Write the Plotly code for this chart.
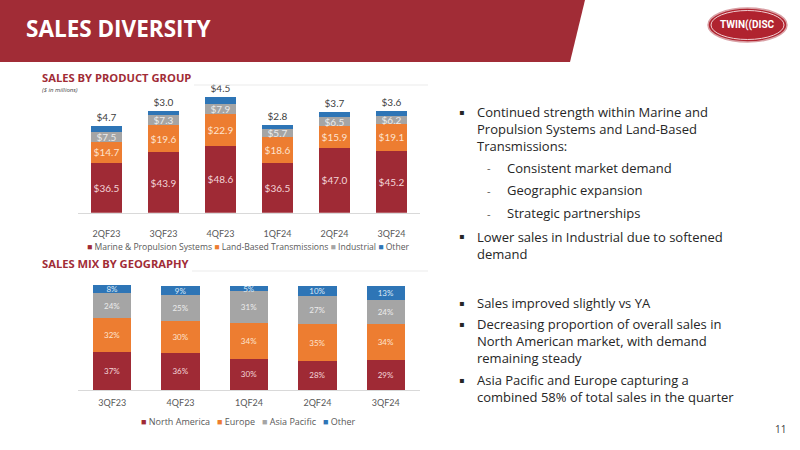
import plotly.graph_objects as go

# ---------------- data ----------------
prod_quarters = ["2QF23", "3QF23", "4QF23", "1QF24", "2QF24", "3QF24"]
marine = [36.5, 43.9, 48.6, 36.5, 47.0, 45.2]
land_based = [14.7, 19.6, 22.9, 18.6, 15.9, 19.1]
industrial = [7.5, 7.3, 7.9, 5.7, 6.5, 6.2]
other_prod = [4.7, 3.0, 4.5, 2.8, 3.7, 3.6]

geo_quarters = ["3QF23", "4QF23", "1QF24", "2QF24", "3QF24"]
north_america = [37, 36, 30, 28, 29]
europe = [32, 30, 34, 35, 34]
asia_pacific = [24, 25, 31, 27, 24]
other_geo = [8, 9, 5, 10, 13]

prod_names = ["Marine & Propulsion Systems", "Land-Based Transmissions", "Industrial", "Other"]
geo_names = ["North America", "Europe", "Asia Pacific", "Other"]

RED = "#9f2a35"
ORANGE = "#ed7d31"
GRAY = "#a5a5a5"
BLUE = "#2e75b6"
COLORS = [RED, ORANGE, GRAY, BLUE]
INSIDE_TXT = ["#f3d6d9", "#fde3cf", "#ececec", "#dce9f6"]

NUM_FONT = "Lato"
TXT_FONT = "Open Sans"

fig = go.Figure()

# ---------------- chart 1: sales by product group ----------------
prod_series = [marine, land_based, industrial, other_prod]
for i, (name, vals) in enumerate(zip(prod_names, prod_series)):
    last = i == len(prod_series) - 1
    fig.add_trace(go.Bar(
        x=prod_quarters, y=vals, name=name,
        marker=dict(color=COLORS[i], line=dict(width=0)),
        text=[f"${v:.1f}" for v in vals],
        textposition="outside" if last else "inside",
        insidetextanchor="middle",
        constraintext="none",
        textfont=dict(family=NUM_FONT, size=10,
                      color="#404040" if last else INSIDE_TXT[i]),
        cliponaxis=False,
        xaxis="x", yaxis="y", showlegend=False,
        hoverinfo="skip",
    ))

# ---------------- chart 2: sales mix by geography ----------------
geo_series = [north_america, europe, asia_pacific, other_geo]
for i, (name, vals) in enumerate(zip(geo_names, geo_series)):
    fig.add_trace(go.Bar(
        x=geo_quarters, y=vals, name=name,
        marker=dict(color=COLORS[i], line=dict(width=0)),
        text=[f"{v}%" for v in vals],
        textposition="inside",
        insidetextanchor="middle",
        constraintext="none",
        textfont=dict(family=NUM_FONT, size=8, color=INSIDE_TXT[i]),
        cliponaxis=False,
        xaxis="x2", yaxis="y2", showlegend=False,
        hoverinfo="skip",
    ))

W, H = 800, 450


def py(px):
    return 1 - px / H


def px_x(px):
    return px / W


axis_common = dict(
    type="category", showgrid=False, zeroline=False,
    showline=True, linecolor="#d9d9d9", linewidth=1,
    ticks="outside", tickcolor="rgba(0,0,0,0)",
    tickfont=dict(family=NUM_FONT, size=9, color="#595959"),
)

fig.update_layout(
    width=W, height=H,
    margin=dict(l=0, r=0, t=0, b=0),
    paper_bgcolor="white", plot_bgcolor="white",
    barmode="stack", bargap=0.44,
    xaxis=dict(domain=[px_x(78), px_x(420)], anchor="y", ticklen=12, **axis_common),
    yaxis=dict(domain=[py(212.7), py(90)], range=[0, (212.7 - 90) / 1.375],
               visible=False, fixedrange=True),
    xaxis2=dict(domain=[px_x(78), px_x(420)], anchor="y2", ticklen=4, **axis_common),
    yaxis2=dict(domain=[py(390), py(280)], range=[0, 110 / 1.04],
                visible=False, fixedrange=True),
)

shapes = []
annotations = []

# header banner
shapes.append(dict(type="path", xref="paper", yref="paper",
                   path=f"M 0 1 L {px_x(585)} 1 L {px_x(570)} {py(62)} L 0 {py(62)} Z",
                   fillcolor="#a12c36", line=dict(width=0), layer="below"))
annotations.append(dict(text="<b>SALES DIVERSITY</b>", x=px_x(24), y=py(29),
                        xref="paper", yref="paper", xanchor="left", yanchor="middle",
                        showarrow=False, font=dict(family=TXT_FONT, size=22.5, color="white")))

# logo
shapes.append(dict(type="circle", xref="paper", yref="paper",
                   x0=px_x(708), x1=px_x(787), y0=py(42), y1=py(8),
                   fillcolor="#b0232f", line=dict(color="#d9a0a5", width=1.5)))
shapes.append(dict(type="circle", xref="paper", yref="paper",
                   x0=px_x(711), x1=px_x(784), y0=py(39.5), y1=py(10.5),
                   fillcolor="rgba(0,0,0,0)", line=dict(color="#f0d0d3", width=1)))
annotations.append(dict(text="<b>TWIN((DISC</b>", x=px_x(747.5), y=py(25.5),
                        xref="paper", yref="paper", xanchor="center", yanchor="middle",
                        showarrow=False, font=dict(family="Roboto", size=10, color="white")))

# section headings
for title, y_c, line_y, x_end in [("SALES BY PRODUCT GROUP", 77, 85, 194),
                                  ("SALES MIX BY GEOGRAPHY", 263, 271, 192)]:
    annotations.append(dict(text=f"<b>{title}</b>", x=px_x(40), y=py(y_c),
                            xref="paper", yref="paper", xanchor="left", yanchor="middle",
                            showarrow=False, font=dict(family=TXT_FONT, size=11.2, color="#a12c36")))
    shapes.append(dict(type="line", xref="paper", yref="paper",
                       x0=px_x(x_end), x1=px_x(428), y0=py(line_y), y1=py(line_y),
                       line=dict(color="#ebebeb", width=1)))
annotations.append(dict(text="<i>($ in millions)</i>", x=px_x(40), y=py(89.5),
                        xref="paper", yref="paper", xanchor="left", yanchor="middle",
                        showarrow=False, font=dict(family=TXT_FONT, size=6, color="#404040")))

# custom legends
def legend_text(names, sep):
    parts = [f"<span style='color:{c}'>■</span> {n}" for n, c in zip(names, COLORS)]
    return sep.join(parts)

annotations.append(dict(text=legend_text(prod_names, " "), x=px_x(248), y=py(246.5),
                        xref="paper", yref="paper", xanchor="center", yanchor="middle",
                        showarrow=False, font=dict(family=TXT_FONT, size=8.6, color="#595959")))
annotations.append(dict(text=legend_text(geo_names, "   "), x=px_x(248), y=py(421),
                        xref="paper", yref="paper", xanchor="center", yanchor="middle",
                        showarrow=False, font=dict(family=TXT_FONT, size=9, color="#595959")))

# bullet paragraphs: (first-line y, kind, lines)
paragraphs = [
    (112, "b", ["Continued strength within Marine and",
                "Propulsion Systems and Land-Based",
                "Transmissions:"]),
    (168, "d", ["Consistent market demand"]),
    (190, "d", ["Geographic expansion"]),
    (213, "d", ["Strategic partnerships"]),
    (237, "b", ["Lower sales in Industrial due to softened", "demand"]),
    (303, "b", ["Sales improved slightly vs YA"]),
    (324, "b", ["Decreasing proportion of overall sales in",
                "North American market, with demand",
                "remaining steady"]),
    (380, "b", ["Asia Pacific and Europe capturing a",
                "combined 58% of total sales in the quarter"]),
]
TXT_COLOR = "#262626"
FS = 13
LINE_H = 1.3 * FS
for y1, kind, lines in paragraphs:
    x_txt = 505 if kind == "d" else 475
    y_mid = y1 + (len(lines) - 1) * LINE_H / 2
    annotations.append(dict(text="<br>".join(lines), x=px_x(x_txt), y=py(y_mid),
                            xref="paper", yref="paper", align="left",
                            xanchor="left", yanchor="middle", showarrow=False,
                            font=dict(family=TXT_FONT, size=FS, color=TXT_COLOR)))
    if kind == "b":
        annotations.append(dict(text="▪", x=px_x(461), y=py(y1), xref="paper", yref="paper",
                                xanchor="center", yanchor="middle", showarrow=False,
                                font=dict(family="DejaVu Sans", size=8, color=TXT_COLOR)))
    else:
        annotations.append(dict(text="-", x=px_x(489), y=py(y1), xref="paper", yref="paper",
                                xanchor="center", yanchor="middle", showarrow=False,
                                font=dict(family=TXT_FONT, size=11, color="#595959")))

# page number
annotations.append(dict(text="11", x=px_x(780), y=py(429), xref="paper", yref="paper",
                        xanchor="center", yanchor="middle", showarrow=False,
                        font=dict(family=TXT_FONT, size=10, color="#404040")))

fig.update_layout(shapes=shapes, annotations=annotations)

fig.write_html("out.html")
